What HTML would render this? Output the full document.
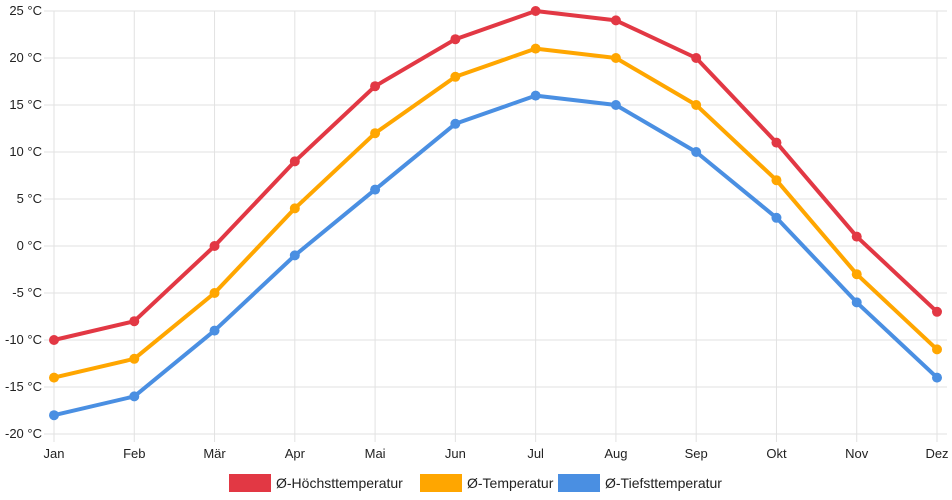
<!DOCTYPE html>
<html><head><meta charset="utf-8"><style>
body{margin:0;background:#fff;font-family:"Liberation Sans",sans-serif}
svg{display:block}
</style></head><body>
<svg id="chart" width="952" height="500" xmlns="http://www.w3.org/2000/svg"></svg>
<script>
const months=["Jan","Feb","Mär","Apr","Mai","Jun","Jul","Aug","Sep","Okt","Nov","Dez"];
const highTemps=[-10,-8,0,9,17,22,25,24,20,11,1,-7];
const meanTemps=[-14,-12,-5,4,12,18,21,20,15,7,-3,-11];
const lowTemps=[-18,-16,-9,-1,6,13,16,15,10,3,-6,-14];
const yTicks=[-20,-15,-10,-5,0,5,10,15,20,25];
const seriesNames=["Ø-Höchsttemperatur","Ø-Temperatur","Ø-Tiefsttemperatur"];
const NS="http://www.w3.org/2000/svg";
const svg=document.getElementById('chart');
const x0=54,x1=937,yTop=11,yBot=434;
const xs=i=>x0+i*(x1-x0)/(months.length-1);
const ys=v=>yBot-(v+20)*(yBot-yTop)/45;
function mk(t,a,p){const e=document.createElementNS(NS,t);for(const k in a)e.setAttribute(k,a[k]);(p||svg).appendChild(e);return e;}
const grid=mk('g',{});


yTicks.forEach(v=>{
  const l=mk('line',{x1:x0-10,x2:947,y1:ys(v),y2:ys(v),stroke:'#e2e2e2','stroke-width':1},grid);
  
  
  const t=mk('text',{x:42,y:ys(v)+4,'text-anchor':'end','font-size':13,fill:'#222'});
  t.textContent=v+' °C';
  
  
});
months.forEach((m,i)=>{
  const l=mk('line',{x1:xs(i),x2:xs(i),y1:yTop,y2:yBot+8,stroke:'#e2e2e2','stroke-width':1},grid);
  
  
  const t=mk('text',{x:xs(i),y:458,'text-anchor':'middle','font-size':13,fill:'#222'});
  t.textContent=m;
  
  
});
const series=[[highTemps,'#e23844'],[meanTemps,'#ffa600'],[lowTemps,'#4a8fe2']];
series.forEach(([d,c],si)=>{
  const g=mk('g',{});
  
  
  const p=mk('polyline',{points:d.map((v,i)=>xs(i)+','+ys(v)).join(' '),fill:'none',stroke:c,'stroke-width':4,'stroke-linejoin':'round'},g);
  
  
  d.forEach((v,i)=>{
    const pt=mk('circle',{cx:xs(i),cy:ys(v),r:5,fill:c},g);
    
    
  });
});
const legX=[229,420,558];
seriesNames.forEach((n,i)=>{
  const g=mk('g',{});
  
  
  mk('rect',{x:legX[i],y:474,width:42,height:18,fill:series[i][1]},g);
  const t=mk('text',{x:legX[i]+47,y:488,'font-size':14,fill:'#222'},g);
  t.textContent=n;
});
</script>
</body></html>
